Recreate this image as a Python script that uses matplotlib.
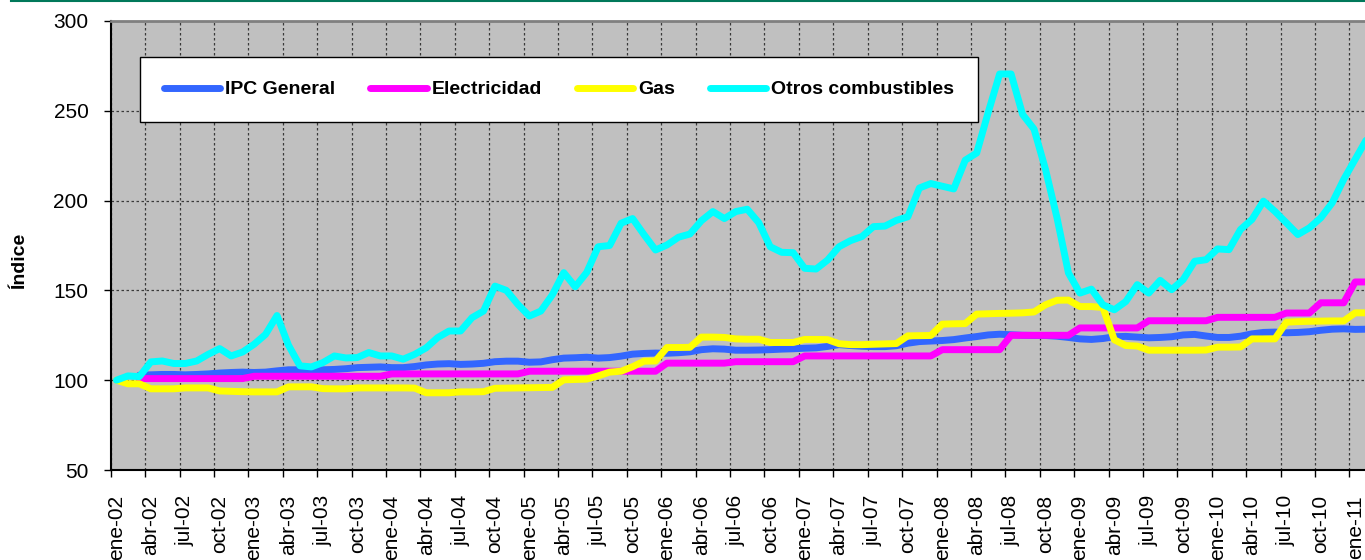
import numpy as np
import matplotlib.pyplot as plt
from matplotlib.lines import Line2D

plt.rcParams['font.family'] = ['Liberation Sans', 'DejaVu Sans']

nan = np.nan

# Índices mensuales, ene-02 a feb-11
ipc_general = [
    nan, nan, 102.8, 103.0, 103.2, 103.2, 103.0, 103.2, 103.5, 104.0,
    104.3, 104.5, 104.3, 104.5, 105.2, 105.8, 105.8, 105.8, 105.8, 106.0,
    106.4, 107.0, 107.2, 107.4, 107.0, 107.0, 107.6, 108.5, 109.0, 109.2,
    108.8, 109.0, 109.4, 110.3, 110.6, 110.6, 110.0, 110.2, 111.4, 112.3,
    112.5, 112.8, 112.3, 112.6, 113.4, 114.5, 114.9, 115.1, 115.0, 115.3,
    115.8, 117.0, 117.5, 117.3, 116.7, 116.7, 116.8, 117.0, 117.3, 117.5,
    117.8, 118.0, 118.8, 119.8, 119.3, 118.9, 118.7, 118.7, 119.2, 120.6,
    121.5, 121.8, 122.1, 122.6, 123.5, 124.3, 125.2, 125.6, 125.3, 125.0,
    124.9, 124.9, 124.5, 123.8, 123.0, 122.7, 123.2, 124.2, 124.4, 124.0,
    123.6, 123.8, 124.2, 125.2, 125.5, 124.6, 123.8, 123.8, 124.5, 125.8,
    126.6, 126.8, 126.4, 126.6, 127.0, 127.8, 128.4, 128.6, 128.3, 128.4,
]
electricidad = [
    nan, nan, 100.9, 100.9, 100.9, 100.9, 100.9, 100.9, 100.9, 100.9,
    100.9, 100.9, 102.2, 102.2, 102.2, 102.2, 102.2, 102.2, 102.2, 102.2,
    102.2, 102.2, 102.2, 102.2, 103.5, 103.5, 103.5, 103.5, 103.5, 103.5,
    103.5, 103.5, 103.5, 103.5, 103.5, 103.5, 105.0, 105.0, 105.0, 105.0,
    105.0, 105.0, 105.0, 105.0, 105.0, 105.0, 105.0, 105.0, 109.5, 109.5,
    109.5, 109.5, 109.5, 109.5, 110.3, 110.3, 110.3, 110.3, 110.3, 110.3,
    113.5, 113.5, 113.5, 113.5, 113.5, 113.5, 113.5, 113.5, 113.5, 113.5,
    113.5, 113.5, 117.0, 117.0, 117.0, 117.0, 117.0, 117.0, 125.0, 125.0,
    125.0, 125.0, 125.0, 125.0, 129.1, 129.1, 129.1, 129.1, 129.1, 129.1,
    133.1, 133.1, 133.1, 133.1, 133.1, 133.1, 135.0, 135.0, 135.0, 135.0,
    135.0, 135.0, 137.4, 137.4, 137.4, 143.1, 143.1, 143.1, 154.7, 154.7,
]
gas = [
    100.0, 98.0, 98.0, 95.2, 95.2, 95.2, 95.7, 95.7, 95.7, 94.0,
    93.8, 93.6, 93.5, 93.5, 93.5, 96.3, 96.3, 96.3, 95.3, 95.2,
    95.2, 95.7, 95.7, 95.7, 95.7, 95.7, 95.6, 93.0, 93.0, 93.0,
    93.5, 93.5, 93.6, 95.5, 95.6, 95.7, 95.8, 95.9, 96.0, 100.2,
    100.4, 100.6, 102.4, 104.5, 105.0, 107.5, 110.6, 110.7, 118.2, 118.2,
    118.3, 124.0, 124.0, 123.8, 123.0, 122.8, 122.8, 121.0, 121.0, 121.0,
    122.7, 122.7, 122.6, 120.3, 119.8, 119.8, 120.0, 120.2, 120.4, 124.7,
    124.8, 124.9, 131.2, 131.4, 131.5, 136.8, 137.0, 137.2, 137.3, 137.5,
    138.0, 142.0, 144.5, 144.6, 141.0, 141.0, 140.5, 122.5, 119.3, 119.0,
    116.7, 116.7, 116.7, 116.7, 116.7, 116.8, 118.4, 118.4, 118.5, 123.0,
    123.0, 123.0, 132.3, 132.6, 132.8, 132.9, 133.0, 133.0, 137.5, 137.5,
]
otros_combustibles = [
    100.0, 102.4, 102.0, 110.2, 110.7, 109.3, 109.3, 110.7, 114.4, 117.6,
    113.5, 115.7, 120.0, 125.5, 136.0, 119.5, 108.0, 107.4, 109.8, 113.5,
    112.4, 112.6, 115.4, 113.5, 113.5, 111.7, 114.4, 118.0, 123.7, 127.4,
    127.4, 134.8, 138.5, 152.4, 150.0, 142.2, 135.7, 138.5, 147.5, 159.9,
    152.0, 160.0, 174.3, 175.0, 187.4, 190.0, 181.0, 172.5, 175.3, 179.6,
    181.4, 188.8, 193.9, 190.0, 193.9, 195.2, 187.7, 174.3, 171.2, 171.0,
    162.3, 161.9, 166.9, 174.3, 177.7, 180.0, 185.5, 185.8, 189.0, 191.0,
    207.0, 209.5, 208.0, 206.5, 222.5, 226.5, 249.0, 270.5, 270.5, 248.0,
    239.8, 217.4, 190.5, 159.7, 148.5, 150.7, 142.0, 139.2, 143.8, 153.2,
    148.5, 155.6, 150.4, 156.0, 166.2, 167.1, 173.1, 172.7, 183.9, 189.5,
    199.7, 194.0, 187.6, 181.1, 184.8, 190.4, 198.8, 211.8, 223.0, 234.2,
]

meses = ['ene', 'abr', 'jul', 'oct']
anios = list(range(2, 12))
etiquetas = [f'{m}-{a:02d}' for a in anios for m in meses][:37]

series = [
    ('IPC General', ipc_general, '#3366FF'),
    ('Electricidad', electricidad, '#FF00FF'),
    ('Gas', gas, '#FFFF00'),
    ('Otros combustibles', otros_combustibles, '#00FFFF'),
]

W, H = 1365, 560
fig = plt.figure(figsize=(W / 100, H / 100), dpi=100)
x0, y_top, y_bot = 110.7, 21, 470
ax = fig.add_axes([x0 / W, (H - y_bot) / H, 1 - x0 / W, (y_bot - y_top) / H])
ax.set_facecolor('#C0C0C0')

x = np.arange(len(otros_combustibles))
for nombre, valores, color in series:
    ax.plot(x, valores, color=color, lw=5, label=nombre,
            solid_joinstyle='round', solid_capstyle='round')

paso = 11.47
ax.set_xlim(-0.5, -0.5 + (W - x0) / paso)
ax.set_ylim(50, 300)
ax.set_yticks(range(50, 301, 50))

# marcas en los límites de cada trimestre, etiquetas centradas en el mes
ax.set_xticks(np.arange(-0.5, 109, 3))
ax.set_xticklabels([])
ax.set_xticks(np.arange(0, 109, 3), minor=True)
ax.set_xticklabels(etiquetas, minor=True, rotation=90, fontsize=15)
ax.tick_params(axis='x', which='minor', length=0, pad=18)
ax.tick_params(axis='x', which='major', direction='out', length=5, width=1)
ax.tick_params(axis='y', direction='out', length=5, width=1, pad=11, labelsize=15)

ax.grid(True, which='major', color='#3a3a3a', lw=0.9, linestyle=(0, (2, 2)))
ax.set_axisbelow(True)

for lado in ('left', 'bottom'):
    ax.spines[lado].set_color('black')
    ax.spines[lado].set_linewidth(1.5)
ax.spines['top'].set_color('#808080')
ax.spines['top'].set_linewidth(2)
ax.spines['right'].set_visible(False)

fig.text(20 / W, 1 - 261 / H, 'Índice', rotation=90, fontsize=14,
         fontweight='bold', ha='center', va='center')

leg = ax.legend(loc='center', bbox_to_anchor=(559 / W, 1 - 89.5 / H),
                bbox_transform=fig.transFigure, ncol=4,
                prop={'weight': 'bold', 'size': 14}, handlelength=2.9,
                handletextpad=0.25, columnspacing=1.8, borderpad=1.2,
                fancybox=False, edgecolor='black', framealpha=1)
leg.get_frame().set_linewidth(1)

fig.add_artist(Line2D([11 / W, 1], [1 - 1 / H, 1 - 1 / H],
                      color='#00785A', lw=1.5))

fig.savefig('out.png', dpi=100)
